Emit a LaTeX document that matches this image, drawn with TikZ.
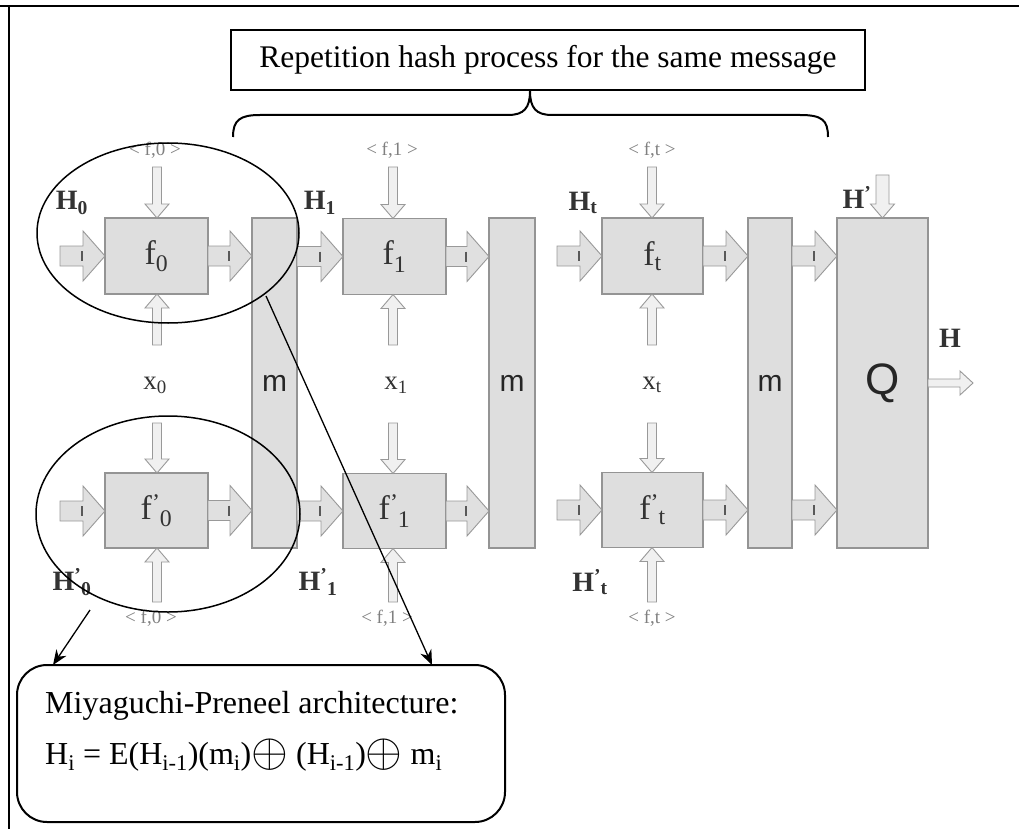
\documentclass[tikz,border=0pt]{standalone}
\usepackage{graphicx}
\usepackage{fontspec}
\setmainfont{Liberation Serif}
\setsansfont{Liberation Sans}
\usetikzlibrary{calc,arrows.meta,shapes.geometric}

\definecolor{boxfill}{gray}{0.87}
\definecolor{boxline}{gray}{0.58}
\definecolor{arrfill}{gray}{0.88}
\definecolor{arrline}{gray}{0.60}
\definecolor{labink}{gray}{0.20}
\definecolor{tagink}{gray}{0.50}

\newcommand\fsz[1]{\fontsize{#1}{#1}\selectfont}
\newcommand\pr[2]{#1\textsuperscript{'}\kern-0.5pt\textsubscript{#2}}
\newcommand\xorsign{\raisebox{-2pt}{\scalebox{1.9}{$\oplus$}}}

% wide block arrow pointing right, from #1 to #2 (height taken from #1)
\newcommand\fatright[2]{%
  \path[fatarrow] let \p1=#1, \p2=#2 in
    (\x1,\y1+10) -- (\x2-22,\y1+10) -- (\x2-22,\y1+25) -- (\x2,\y1)
    -- (\x2-22,\y1-25) -- (\x2-22,\y1-10) -- (\x1,\y1-10) -- cycle;
  \draw[tick] let \p1=#1, \p2=#2 in (\x2-23,\y1+5) -- (\x2-23,\y1-5);}
% slim arrow pointing down, from the height of #2 to #3 ([#1] = half shaft width)
\newcommand\slimdown[3][4.5]{%
  \path[slimarrow] let \p1=#2, \p2=#3 in
    (\x2-#1,\y1) -- (\x2-#1,\y2+14) -- (\x2-12,\y2+14) -- (\x2,\y2)
    -- (\x2+12,\y2+14) -- (\x2+#1,\y2+14) -- (\x2+#1,\y1) -- cycle;}
% slim arrow pointing up, from the height of #1 to #2
\newcommand\slimup[2]{%
  \path[slimarrow] let \p1=#1, \p2=#2 in
    (\x2-4.5,\y1) -- (\x2-4.5,\y2-14) -- (\x2-12,\y2-14) -- (\x2,\y2)
    -- (\x2+12,\y2-14) -- (\x2+4.5,\y2-14) -- (\x2+4.5,\y1) -- cycle;}
% slim arrow pointing right
\newcommand\slimright[2]{%
  \path[slimarrow] let \p1=#1, \p2=#2 in
    (\x1,\y1+4) -- (\x2-13,\y1+4) -- (\x2-13,\y1+12) -- (\x2,\y1)
    -- (\x2-13,\y1-12) -- (\x2-13,\y1-4) -- (\x1,\y1-4) -- cycle;}

\begin{document}
\begin{tikzpicture}[x=1pt,y=-1pt,
  fbox/.style={draw=boxline, fill=boxfill, line width=1.6pt, inner sep=0pt,
    outer sep=0pt, minimum width=103pt, minimum height=76pt,
    font=\fsz{34}, text=labink},
  mbar/.style={draw=boxline, fill=boxfill, line width=1.2pt, inner sep=0pt,
    outer sep=0pt, minimum width=45pt, minimum height=330pt,
    font=\sffamily\fsz{30}, text=black!85},
  fatarrow/.style={draw=arrline, fill=arrfill, line width=0.9pt},
  slimarrow/.style={draw=arrline, fill=white!50!arrfill, line width=0.9pt},
  tick/.style={draw=black!65, line width=1.3pt},
  tag/.style={font=\fsz{19}, text=tagink, inner sep=0pt},
  hlab/.style={font=\bfseries\fsz{28}, text=labink, inner sep=0pt},
  xlab/.style={font=\fsz{27}, text=labink, inner sep=0pt},
  pointer/.style={draw=black, line width=1.3pt, -{Stealth[length=15pt,width=12pt]}},
  ring/.style={draw=black, line width=1.5pt, ellipse, inner sep=0pt},
]
\fill[white] (0,0) rectangle (1019,829);
\useasboundingbox (0,0) rectangle (1019,829);

% page frame
\draw[line width=2pt] (0,6) -- (1019,6);
\draw[line width=2.5pt] (9,6) -- (9,829);

% title and brace
\node[draw, line width=2.4pt, minimum width=634pt, minimum height=60pt,
      inner sep=0pt, font=\fsz{31.5}] (title) at (548,60)
      {Repetition hash process for the same message};
\coordinate (tip) at (530,91);
\draw[line width=2pt] (233,137) .. controls (233,120) and (240,115) .. (260,115)
  -- (508,115) .. controls (524,115) and (530,108) .. (tip)
  .. controls (530,108) and (536,115) .. (552,115)
  -- (800,115) .. controls (822,115) and (828,120) .. (828,137);

% compression boxes
\node[fbox] (f0) at (156.5,256) {f\textsubscript{0}};
\node[fbox] (f1) at (394.5,256.5) {f\textsubscript{1}};
\node[fbox, minimum width=101pt] (ft) at (652.5,256) {f\textsubscript{t}};
\node[fbox, minimum height=75pt] (g0) at (156.5,510.5) {\pr{f}{0}};
\node[fbox, minimum height=75pt] (g1) at (394.5,511) {\pr{f}{1}};
\node[fbox, minimum width=101pt, minimum height=75pt] (gt) at (652.5,510) {\pr{f}{t}};

% mixing bars and final stage
\node[mbar] (m1) at (274.5,383) {m};
\node[mbar, minimum width=46pt] (m2) at (512,383) {m};
\node[mbar, minimum width=44pt] (m3) at (770,383) {m};
\node[mbar, minimum width=91pt, font=\sffamily\fsz{44}] (Q) at (882.5,383) {Q};

% chaining arrows, upper row
\coordinate (in0) at (60,256);
\coordinate (int) at (557,256);
\fatright{(in0)}{(f0.west)}
\fatright{(f0.east)}{(m1.west |- f0.east)}
\fatright{(m1.east |- f1.west)}{(f1.west)}
\fatright{(f1.east)}{(m2.west |- f1.east)}
\fatright{(int)}{(ft.west)}
\fatright{(ft.east)}{(m3.west |- ft.east)}
\fatright{(m3.east |- ft.east)}{(Q.west |- ft.east)}

% chaining arrows, lower row
\coordinate (jn0) at (60,511);
\coordinate (jnt) at (557,510);
\fatright{(jn0)}{(g0.west)}
\fatright{(g0.east)}{(m1.west |- g0.east)}
\fatright{(m1.east |- g1.west)}{(g1.west)}
\fatright{(g1.east)}{(m2.west |- g1.east)}
\fatright{(jnt)}{(gt.west)}
\fatright{(gt.east)}{(m3.west |- gt.east)}
\fatright{(m3.east |- gt.east)}{(Q.west |- gt.east)}

% key tags and message inputs
\node[tag] (k0) at (155,150) {< f,0 >};
\node[tag] (k1) at (392,150) {< f,1 >};
\node[tag] (kt) at (652,150) {< f,t >};
\node[tag] (l0) at (151,618) {< f,0 >};
\node[tag] (l1) at (387,618) {< f,1 >};
\node[tag] (lt) at (652,618) {< f,t >};
\node[xlab] (x0) at (155,385) {x\textsubscript{0}};
\node[xlab] (x1) at (396,385) {x\textsubscript{1}};
\node[xlab] (xt) at (652,385) {x\textsubscript{t}};

\coordinate (a0) at (157,167);  \coordinate (a1) at (393,167);  \coordinate (at) at (652,167);
\coordinate (b0) at (157,345);  \coordinate (b1) at (393,345);  \coordinate (bt) at (652,345);
\coordinate (c0) at (157,423);  \coordinate (c1) at (393,423);  \coordinate (ct) at (652,423);
\coordinate (d0) at (157,602);  \coordinate (d1) at (393,602);  \coordinate (dt) at (652,602);
\slimdown{(a0)}{(a0 |- f0.north)}
\slimdown{(a1)}{(a1 |- f1.north)}
\slimdown{(at)}{(at |- ft.north)}
\slimup{(b0)}{(b0 |- f0.south)}
\slimup{(b1)}{(b1 |- f1.south)}
\slimup{(bt)}{(bt |- ft.south)}
\slimdown{(c0)}{(c0 |- g0.north)}
\slimdown{(c1)}{(c1 |- g1.north)}
\slimdown{(ct)}{(ct |- gt.north)}
\slimup{(d0)}{(d0 |- g0.south)}
\slimup{(d1)}{(d1 |- g1.south)}
\slimup{(dt)}{(dt |- gt.south)}

% chaining values
\node[hlab] (h0) at (72,203) {H\textsubscript{0}};
\node[hlab] (h1) at (320,203) {H\textsubscript{1}};
\node[hlab] (ht) at (583,203) {H\textsubscript{t}};
\node[hlab] (p0) at (72,582) {\pr{H}{0}};
\node[hlab] (p1) at (318,582) {\pr{H}{1}};
\node[hlab] (pt) at (590,582) {\pr{H}{t}};
\node[hlab] (hq) at (857,197) {H\textsuperscript{'}};
\node[hlab] (hout) at (950,338) {H};

% final inputs and output
\coordinate (qin) at (881,175);
\coordinate (qout) at (973,383);
\slimdown[6.5]{(qin)}{(Q.north)}
\slimright{(Q.east)}{(qout)}

% highlighted stages
\node[ring, minimum width=262pt, minimum height=180pt] (e0) at (168,233) {};
\node[ring, minimum width=264pt, minimum height=196pt] (e1) at (168,514) {};

% architecture note
\node[draw, line width=2pt, rounded corners=30pt, minimum width=488pt,
      minimum height=157pt, inner sep=0pt] (note) at (261,743.5) {};
\node[anchor=base west, font=\fsz{32}, inner sep=0pt] (n1) at (45,713)
      {Miyaguchi-Preneel architecture:};
\node[anchor=base west, font=\fsz{32}, inner sep=0pt] (n2) at (45,764)
      {H\textsubscript{i} = E(H\textsubscript{i-1})(m\textsubscript{i})\xorsign\
       (H\textsubscript{i-1})\xorsign\ m\textsubscript{i}};

% pointers from the highlighted stages to the note
\coordinate (s0) at (90,610);
\coordinate (s1) at (266,296);
\coordinate (t0) at (53,665);
\coordinate (t1) at (432,665);
\draw[pointer] (s0) -- (t0);
\draw[pointer] (s1) -- (t1);
\end{tikzpicture}
\end{document}
